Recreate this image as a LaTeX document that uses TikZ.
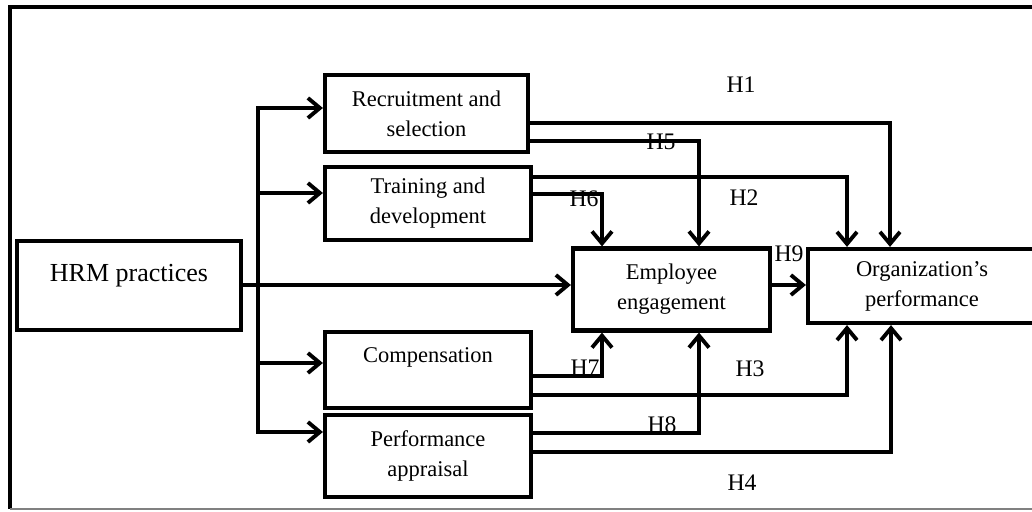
\documentclass[tikz,border=0pt]{standalone}
\usepackage{fontspec}
\setmainfont{Liberation Serif}
\usepackage{tikz}
\usetikzlibrary{arrows.meta}
\usetikzlibrary{positioning}

\begin{document}
\begin{tikzpicture}
      [x=0.02cm,y=-0.02cm,
       factorBox/.style={rectangle,draw=black,line width=2.4pt,align=center,inner sep=2pt,
                         font=\fontsize{12.8}{17}\selectfont},
       hypLabel/.style={inner sep=0pt,font=\fontsize{13.5}{15}\selectfont},
       pathLine/.style={line width=2.2pt,line join=miter},
       pathArrow/.style={pathLine,-{Straight Barb[length=2.4mm,width=4mm]}}]
      \useasboundingbox (0,0) rectangle (1032,511);
      % frame
      \draw[line width=2.4pt] (1045,7) -- (10,7) -- (10,509);
      \draw[gray,line width=0.9pt] (10,509) -- (1045,509);

      \node[factorBox,minimum width=4.48cm,minimum height=1.78cm,font=\fontsize{14.8}{14}\selectfont]
            (hrm) at (129,285.5) {HRM practices\\ ~};
      \node[factorBox,minimum width=4.06cm,minimum height=1.54cm] (recruit) at (426.5,113.5) {Recruitment and\\selection};
      \node[factorBox,minimum width=4.12cm,minimum height=1.46cm] (train) at (428,203.5) {Training and\\development};
      \node[factorBox,minimum width=4.12cm,minimum height=1.52cm] (comp) at (428,370) {Compensation\\ ~};
      \node[factorBox,minimum width=4.12cm,minimum height=1.64cm] (appraise) at (428,456) {Performance\\appraisal};
      \node[factorBox,minimum width=3.94cm,minimum height=1.64cm] (engage) at (671.5,289.5) {Employee\\engagement};
      \node[factorBox,minimum width=4.56cm,minimum height=1.48cm] (org) at (922,286) {Organization’s\\performance};

      % HRM practices to the four practices
      \coordinate (split) at (258,285);
      \draw[pathLine,{Straight Barb[length=2.4mm,width=4mm]}-{Straight Barb[length=2.4mm,width=4mm]}]
            (recruit.west |- 0,108) -| (split) |- (appraise.west |- 0,432);
      \draw[pathArrow] (split |- 0,193) -- (train.west |- 0,193);
      \draw[pathArrow] (split |- 0,363) -- (comp.west |- 0,363);
      \draw[pathArrow] (hrm.east |- 0,285) -- (engage.west |- 0,285);
      \draw[pathArrow] (engage.east |- 0,285) -- (org.west |- 0,285);

      % practices to engagement and performance
      \draw[pathArrow] (recruit.east |- 0,123) -| (org.north -| 890,0);
      \draw[pathArrow] (recruit.east |- 0,141) -| (engage.north -| 699,0);
      \draw[pathArrow] (train.east |- 0,177) -| (org.north -| 847,0);
      \draw[pathArrow] (train.east |- 0,194) -| (engage.north -| 602,0);
      \draw[pathArrow] (comp.east |- 0,376) -| (engage.south -| 602,0);
      \draw[pathArrow] (comp.east |- 0,395) -| (org.south -| 847,0);
      \draw[pathArrow] (appraise.east |- 0,433) -| (engage.south -| 699,0);
      \draw[pathArrow] (appraise.east |- 0,452) -| (org.south -| 891,0);

      \node[hypLabel] (h1) at (741,85) {H1};
      \node[hypLabel] (h2) at (744,198) {H2};
      \node[hypLabel] (h3) at (750,369) {H3};
      \node[hypLabel] (h4) at (742,483) {H4};
      \node[hypLabel] (h5) at (661,142) {H5};
      \node[hypLabel] (h6) at (584,199) {H6};
      \node[hypLabel] (h7) at (585,368) {H7};
      \node[hypLabel] (h8) at (662,425) {H8};
      \node[hypLabel] (h9) at (789,254) {H9};
    \end{tikzpicture}
\end{document}
